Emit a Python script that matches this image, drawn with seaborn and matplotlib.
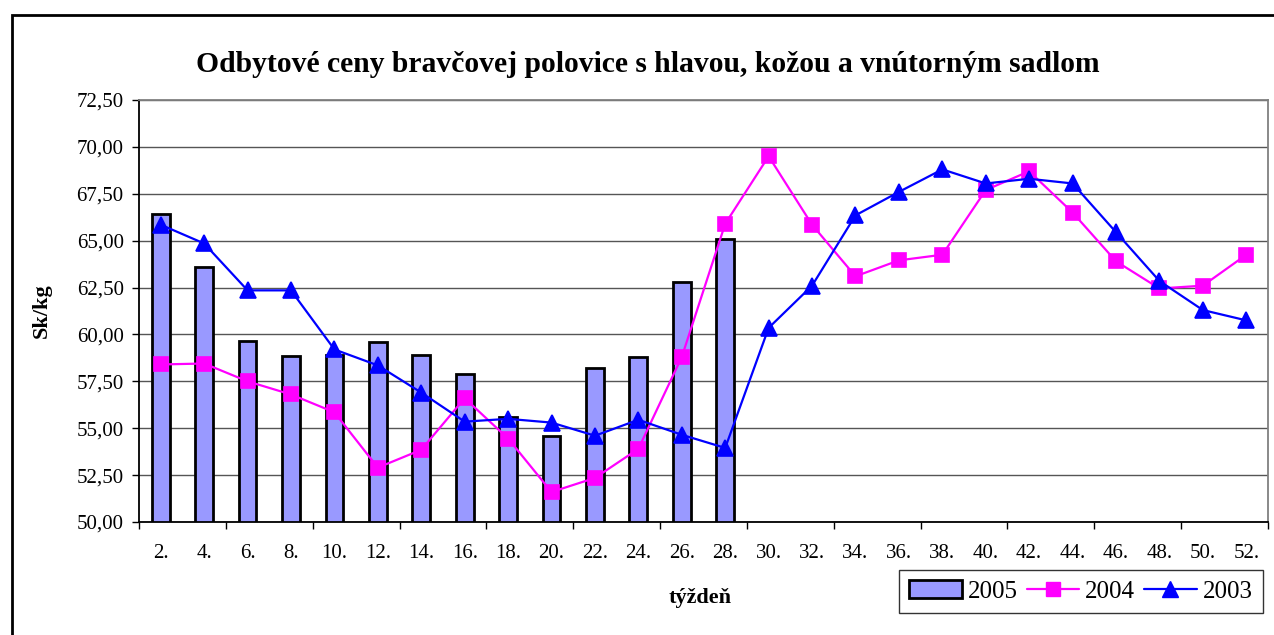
import pandas as pd
import matplotlib
matplotlib.use('Agg')
import matplotlib.pyplot as plt
import seaborn as sns
from matplotlib.patches import Patch, Rectangle
from matplotlib.lines import Line2D
from matplotlib.ticker import FuncFormatter, FixedLocator

# weekly prices Sk/kg
weeks = [f'{w}.' for w in range(2, 54, 2)]
prices_2005 = [66.4, 63.6, 59.65, 58.85, 58.9, 59.6, 58.9, 57.9, 55.6, 54.6,
               58.2, 58.8, 62.8, 65.1]
prices_2004 = [58.4, 58.45, 57.5, 56.8, 55.85, 52.9, 53.85, 56.6, 54.45, 51.6,
               52.35, 53.9, 58.8, 65.9, 69.5, 65.85, 63.1, 63.95, 64.25, 67.7,
               68.7, 66.5, 63.9, 62.45, 62.6, 64.25]
prices_2003 = [65.85, 64.85, 62.35, 62.35, 59.2, 58.35, 56.9, 55.35, 55.5, 55.3,
               54.6, 55.45, 54.65, 53.95, 60.35, 62.6, 66.35, 67.6, 68.8, 68.05,
               68.3, 68.05, 65.45, 62.85, 61.3, 60.75]

df05 = pd.DataFrame({'week': weeks[:len(prices_2005)], 'price': prices_2005})
df04 = pd.DataFrame({'week': weeks, 'price': prices_2004})
df03 = pd.DataFrame({'week': weeks, 'price': prices_2003})

sns.set_theme(style='white')
plt.rcParams['font.family'] = ['Liberation Serif', 'DejaVu Serif']
plt.rcParams['text.color'] = 'black'
plt.rcParams['xtick.color'] = 'black'
plt.rcParams['ytick.color'] = 'black'

W, H = 1274, 635
fig = plt.figure(figsize=(W / 100, H / 100), dpi=100)
ax = fig.add_axes([139 / W, 1 - 522 / H, (1268 - 139) / W, (522 - 100) / H])

sns.barplot(data=df05, x='week', y='price', order=weeks, ax=ax,
            color='#9999FF', saturation=1, width=0.41,
            edgecolor='black', linewidth=2, errorbar=None)
sns.pointplot(data=df04, x='week', y='price', order=weeks, ax=ax,
              color='#FF00FF', marker='s', markersize=10, linewidth=1.6,
              errorbar=None)
sns.pointplot(data=df03, x='week', y='price', order=weeks, ax=ax,
              color='#0000FF', marker='^', markersize=11, linewidth=1.6,
              errorbar=None)

ax.set_xlim(-0.5, len(weeks) - 0.5)
ax.set_ylim(50, 72.5)
ax.set_yticks([50 + 2.5 * i for i in range(10)])
ax.yaxis.set_major_formatter(FuncFormatter(lambda v, p: f'{v:.2f}'.replace('.', ',')))
ax.grid(axis='y', color='#555555', linewidth=1)
ax.set_axisbelow(True)
ax.set_xlabel('')
ax.set_ylabel('')

ax.xaxis.set_minor_locator(FixedLocator([i - 0.5 for i in range(0, len(weeks) + 1, 2)]))
ax.tick_params(axis='x', which='major', length=0, pad=16, labelsize=15, labelcolor='black')
ax.tick_params(axis='x', which='minor', bottom=True, length=5, width=1, color='black', direction='out')
ax.tick_params(axis='y', left=True, length=5, width=1, color='black', direction='out',
               pad=6, labelsize=15, labelcolor='black')

for side in ['left', 'bottom']:
    ax.spines[side].set_color('black')
    ax.spines[side].set_linewidth(1.3)
for side in ['top', 'right']:
    ax.spines[side].set_color('#808080')
    ax.spines[side].set_linewidth(1.3)

fig.text(648 / W, 1 - 65 / H, 'Odbytové ceny bravčovej polovice s hlavou, kožou a vnútorným sadlom',
         ha='center', va='center', fontsize=21.3, fontweight='bold')
fig.text(42 / W, 1 - 311 / H, 'Sk/kg', rotation=90, ha='center', va='center',
         fontsize=16, fontweight='bold')
fig.text(700 / W, 1 - 598 / H, 'týždeň', ha='center', va='center',
         fontsize=16, fontweight='bold')

handles = [
    Patch(facecolor='#9999FF', edgecolor='black', linewidth=2, label='2005'),
    Line2D([], [], color='#FF00FF', marker='s', markersize=10, linewidth=1.6, label='2004'),
    Line2D([], [], color='#0000FF', marker='^', markersize=11, linewidth=1.6, label='2003'),
]
leg = fig.legend(handles=handles, loc='center', bbox_to_anchor=(1081 / W, 1 - 591.5 / H),
                 ncol=3, fontsize=18, frameon=True, fancybox=False, edgecolor='black',
                 handlelength=2.1, handletextpad=0.25, columnspacing=0.35,
                 borderpad=0.4, borderaxespad=0)
leg.get_frame().set_linewidth(1)

fig.add_artist(Rectangle((12 / W, -0.1), 1.2, 1.1 - 15 / H, transform=fig.transFigure,
                         fill=False, edgecolor='black', linewidth=2))

fig.savefig('out.png', dpi=100)
